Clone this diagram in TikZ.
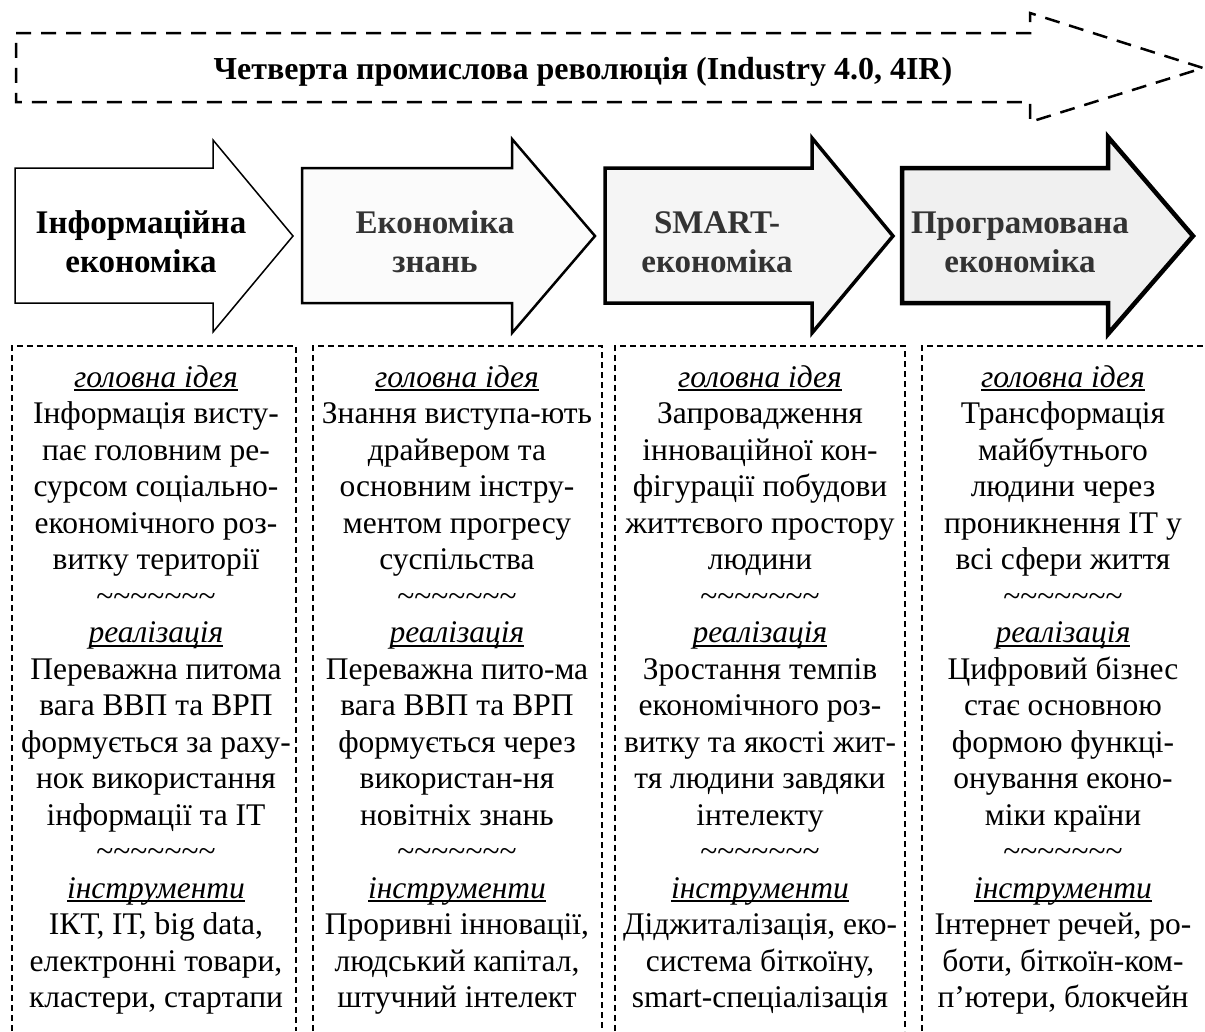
\documentclass[tikz,border=0pt]{standalone}
\usepackage{fontspec}
\setmainfont{Liberation Serif}
\newcommand\myul[1]{\setbox0\hbox{#1}\rlap{\rule[-4pt]{\wd0}{2pt}}\box0}
\newcommand\mytildes{\textasciitilde\textasciitilde\textasciitilde\textasciitilde\textasciitilde\textasciitilde\textasciitilde}
\definecolor{fillb}{HTML}{FBFBFB}
\definecolor{fillc}{HTML}{F5F5F5}
\definecolor{filld}{HTML}{F0F0F0}
\definecolor{txtgray}{HTML}{333333}
\begin{document}
\begin{tikzpicture}[x=1pt,y=-1pt,
  bigarrow/.style={draw=black,dash pattern=on 15pt off 10pt,line width=2.5pt,line join=miter},
  fatarrow/.style={draw=black,line join=miter},
  colbox/.style={draw=black,dash pattern=on 6pt off 4pt,line width=1.5pt},
  coltext/.style={align=center,font=\fontsize{31.5}{36.5}\selectfont,inner sep=0pt,anchor=north},
  arrtext/.style={align=center,font=\fontsize{33}{39}\selectfont\bfseries,inner sep=0pt,anchor=north},
  titletext/.style={font=\fontsize{32}{36}\selectfont\bfseries,inner sep=0pt,anchor=base}]
\useasboundingbox (0,0) rectangle (1205,1031);
\fill[white] (0,0) rectangle (1205,1031);

% top dashed arrow
\draw[bigarrow] (16,33) -- (1030,33) -- (1030,13) -- (1203,68) -- (1030,122) -- (1030,102) -- (16,102) -- cycle;
\node[titletext] (title) at (583,79) {Четверта промислова революція (Industry 4.0, 4IR)};

% four arrows
\draw[fatarrow,fill=white,line width=1.5pt] (15,168) -- (213,168) -- (213,140) -- (293,236) -- (213,332) -- (213,303) -- (15,303) -- cycle;
\draw[fatarrow,fill=fillb,line width=2.5pt] (302,168) -- (512,168) -- (512,139) -- (595,236) -- (512,333) -- (512,303) -- (302,303) -- cycle;
\draw[fatarrow,fill=fillc,line width=3.5pt] (605,168) -- (812,168) -- (812,138) -- (893,236) -- (812,333) -- (812,303) -- (605,303) -- cycle;
\draw[fatarrow,fill=filld,line width=4.5pt] (902,168) -- (1108,168) -- (1108,137) -- (1193,236) -- (1108,334) -- (1108,303) -- (902,303) -- cycle;

\node[arrtext] (a1) at (141,205.7) {\strut Інформаційна\\економіка};
\node[arrtext,text=txtgray] (a2) at (435,205.7) {\strut Економіка\\знань};
\node[arrtext,text=txtgray] (a3) at (717,205.7) {\strut SMART-\\економіка};
\node[arrtext,text=txtgray] (a4) at (1020,205.7) {\strut Програмована\\економіка};

% dashed columns (open at bottom)
\draw[colbox] (12,1031) -- (12,346) -- (296,346) -- (296,1031);
\draw[colbox] (313,1031) -- (313,346) -- (602,346) -- (602,1031);
\draw[colbox] (615,1031) -- (615,346) -- (905,346) -- (905,1031);
\draw[colbox] (922,1031) -- (922,346) -- (1210,346);

\node[coltext] (c1) at (156,361.45) {\strut\myul{\textit{головна ідея}}\\
Інформація висту-\\
пає головним ре-\\
сурсом соціально-\\
економічного роз-\\
витку території\\
\mytildes\\
\myul{\textit{реалізація}}\\
Переважна питома\\
вага ВВП та ВРП\\
формується за раху-\\
нок використання\\
інформації та ІТ\\
\mytildes\\
\myul{\textit{інструменти}}\\
ІКТ, ІТ, big data,\\
електронні товари,\\
кластери, стартапи};

\node[coltext] (c2) at (457,361.45) {\strut\myul{\textit{головна ідея}}\\
Знання виступа-ють\\
драйвером та\\
основним інстру-\\
ментом прогресу\\
суспільства\\
\mytildes\\
\myul{\textit{реалізація}}\\
Переважна пито-ма\\
вага ВВП та ВРП\\
формується через\\
використан-ня\\
новітніх знань\\
\mytildes\\
\myul{\textit{інструменти}}\\
Проривні інновації,\\
людський капітал,\\
штучний інтелект};

\node[coltext] (c3) at (760,361.45) {\strut\myul{\textit{головна ідея}}\\
Запровадження\\
інноваційної кон-\\
фігурації побудови\\
життєвого простору\\
людини\\
\mytildes\\
\myul{\textit{реалізація}}\\
Зростання темпів\\
економічного роз-\\
витку та якості жит-\\
тя людини завдяки\\
інтелекту\\
\mytildes\\
\myul{\textit{інструменти}}\\
Діджиталізація, еко-\\
система біткоїну,\\
smart-спеціалізація};

\node[coltext] (c4) at (1063,361.45) {\strut\myul{\textit{головна ідея}}\\
Трансформація\\
майбутнього\\
людини через\\
проникнення ІТ у\\
всі сфери життя\\
\mytildes\\
\myul{\textit{реалізація}}\\
Цифровий бізнес\\
стає основною\\
формою функці-\\
онування еконо-\\
міки країни\\
\mytildes\\
\myul{\textit{інструменти}}\\
Інтернет речей, ро-\\
боти, біткоїн-ком-\\
п’ютери, блокчейн};
\end{tikzpicture}
\end{document}
